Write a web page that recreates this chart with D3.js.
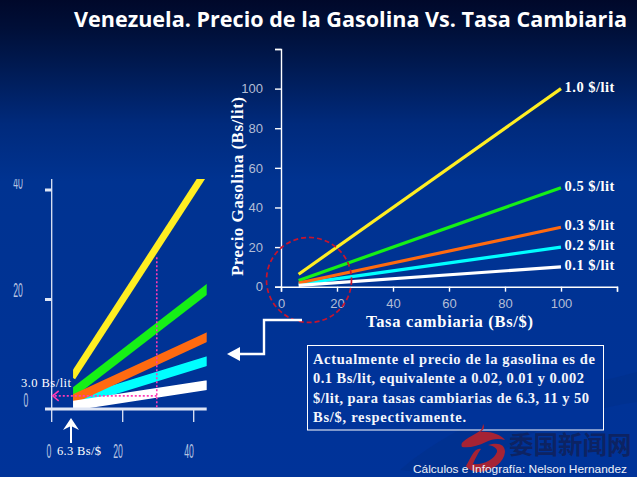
<!DOCTYPE html>
<html><head><meta charset="utf-8">
<script src="https://cdn.jsdelivr.net/npm/d3@7/dist/d3.min.js"></script>
<style>html,body{margin:0;padding:0;background:#003399;overflow:hidden}svg{display:block}</style>
</head><body><svg id="c" width="637" height="477"></svg>
<script>
const seriesNames=["1.0 $/lit","0.5 $/lit","0.2 $/lit","0.3 $/lit","0.1 $/lit"];
const seriesColors=["#ffee22","#16f016","#00ffff","#ff6a10","#ffffff"];
const xValues=[6.3,100];
const yellowValues=[6.3,100];
const greenValues=[3.15,50];
const cyanValues=[1.26,20];
const orangeValues=[1.89,30];
const whiteValues=[0.63,10];
const allValues=[yellowValues,greenValues,cyanValues,orangeValues,whiteValues];
const mainTicks=[0,20,40,60,80,100,120];
const insetTicks=[0,20,40];
const guideX=29.6, guideTop=27.7, guideLeft=2.4;
const noteLines=["Actualmente el precio de la gasolina es de","0.1 Bs/lit, equivalente a 0.02, 0.01 y 0.002","$/lit, para tasas cambiarias de 6.3, 11 y 50","Bs/$, respectivamente."];

const svg=d3.select("#c");
const defs=svg.append("defs");
const g=defs.append("linearGradient").attr("id","bg").attr("x1",0).attr("x2",0).attr("y1",0).attr("y2",1);
[[0,"#00082a"],[0.06,"#000f38"],[0.14,"#001a52"],[0.26,"#002a7c"],[0.38,"#003391"],[1,"#003399"]].forEach(d=>g.append("stop").attr("offset",d[0]).attr("stop-color",d[1]));
svg.append("rect").attr("width",637).attr("height",477).attr("fill","url(#bg)");
svg.append("path").attr("d","M637,372 C560,392 470,410 400,470 L470,477 C520,430 580,410 637,402Z").attr("fill","#002f8a").attr("opacity",.55);

svg.append("text").attr("x",74).attr("y",27).attr("textLength",553).attr("lengthAdjust","spacingAndGlyphs")
 .attr("font-family","'Open Sans',sans-serif").attr("font-weight",700).attr("font-size",21.5).attr("fill","#fff").text("Venezuela. Precio de la Gasolina Vs. Tasa Cambiaria");

// main chart
const x=d3.scaleLinear().domain([0,120]).range([281,617]);
const y=d3.scaleLinear().domain([0,120]).range([286.7,49]);
const tickStyle=(sel)=>{sel.select(".domain").attr("stroke","#fff").attr("stroke-width",1.4);
 sel.selectAll(".tick line").attr("stroke","#fff").attr("stroke-width",1.4);
 sel.selectAll(".tick text").attr("fill","#b4bed6").attr("font-family","'Liberation Sans',sans-serif").attr("font-size",13);};
const fmt=d=>d===120?"":d;
svg.append("g").attr("transform","translate(0,286.7)").call(d3.axisBottom(x).tickValues(mainTicks).tickFormat(fmt).tickSizeOuter(0).tickSize(5).tickPadding(7)).call(tickStyle);
svg.append("g").attr("transform","translate(281,0)").call(d3.axisLeft(y).tickValues(mainTicks).tickFormat(fmt).tickSizeOuter(0).tickSize(6).tickPadding(12)).call(tickStyle);
const line=d3.line().x((d,i)=>x(xValues[i])).y(d=>y(d));
svg.append("g").selectAll("path").data(allValues).join("path").attr("d",line).attr("fill","none")
 .attr("stroke",(d,i)=>seriesColors[i]).attr("stroke-width",3.2);
const labelFont="'Liberation Serif',serif";
svg.append("g").selectAll("text").data(allValues).join("text").attr("x",x(100)+3.5).attr("y",d=>y(d[1])+3)
 .attr("font-family",labelFont).attr("font-weight",700).attr("font-size",14.5).attr("letter-spacing",.5).attr("fill","#fff").text((d,i)=>seriesNames[i]);
svg.append("text").attr("x",366).attr("y",327).attr("font-family",labelFont).attr("font-weight",700).attr("font-size",16.5).attr("textLength",167).attr("fill","#fff").text("Tasa cambiaria (Bs/$)");
svg.append("text").attr("transform","translate(243,276) rotate(-90)").attr("font-family",labelFont).attr("font-weight",700).attr("font-size",17).attr("textLength",179).attr("fill","#fff").text("Precio Gasolina (Bs/lit)");
svg.append("circle").attr("cx",x(10)).attr("cy",y(3.4)).attr("r",42.5).attr("fill","none").attr("stroke","#c8142c").attr("stroke-width",1.7).attr("stroke-dasharray","5,3");

// connector
svg.append("path").attr("d","M302,320H264V354H238").attr("fill","none").attr("stroke","#fff").attr("stroke-width",2.4);
svg.append("path").attr("d","M227,354L240,347V361Z").attr("fill","#fff");

// inset
const ix=d3.scaleLinear().domain([0,40]).range([51.7,193.7]);
const iy=d3.scaleLinear().domain([0,40]).range([409,190]);
defs.append("clipPath").attr("id","ic").append("rect").attr("x",ix(xValues[0])-1).attr("y",179).attr("width",206.7-ix(xValues[0])+1).attr("height",230);
const iline=d3.line().x((d,i)=>ix(xValues[i])).y(d=>iy(d));
const iw=[7,8.6,9.4,9,9.6];
svg.append("g").attr("clip-path","url(#ic)").selectAll("path").data(allValues).join("path").attr("d",iline).attr("fill","none")
 .attr("stroke-linecap","square").attr("stroke",(d,i)=>seriesColors[i]).attr("stroke-width",(d,i)=>iw[i]);
// inset axes
const axG=svg.append("g");
axG.append("line").attr("x1",ix(0)).attr("x2",ix(0)).attr("y1",179).attr("y2",422).attr("stroke","#dfe6f5").attr("stroke-width",1.3);
axG.append("line").attr("x1",45).attr("x2",206.7).attr("y1",iy(0)).attr("y2",iy(0)).attr("stroke","#dfe6f5").attr("stroke-width",3);
axG.selectAll(".ty").data(insetTicks.slice(1)).join("line").attr("x1",45).attr("x2",ix(0)).attr("y1",d=>iy(d)).attr("y2",d=>iy(d)).attr("stroke","#dfe6f5").attr("stroke-width",3);
axG.selectAll(".tx").data(insetTicks.slice(1)).join("line").attr("x1",d=>ix(d)).attr("x2",d=>ix(d)).attr("y1",iy(0)).attr("y2",422).attr("stroke","#dfe6f5").attr("stroke-width",1.3);
const stretched=(px,py,t,sy=1.5)=>svg.append("text").attr("transform",`translate(${px},${py}) scale(.62,${sy})`).attr("text-anchor","middle")
 .attr("font-family","'Liberation Sans',sans-serif").attr("font-size",14).attr("fill","#b6c4e2").text(t);
defs.append("clipPath").attr("id","top").append("rect").attr("x",0).attr("y",179).attr("width",60).attr("height",30);
svg.append("g").attr("clip-path","url(#top)").append("text").attr("transform","translate(18,189) scale(.62,1.5)").attr("text-anchor","middle")
 .attr("font-family","'Liberation Sans',sans-serif").attr("font-size",14).attr("fill","#b6c4e2").text(insetTicks[2]);
stretched(18,297,insetTicks[1]);
stretched(26,407,insetTicks[0],1.38);
stretched(49,458,insetTicks[0]);
stretched(118,458,insetTicks[1]);
stretched(189,458,insetTicks[2]);

// pink guides
svg.append("line").attr("x1",ix(guideX)).attr("x2",ix(guideX)).attr("y1",iy(guideTop)).attr("y2",iy(0)).attr("stroke","#ff3ab4").attr("stroke-width",1.6).attr("stroke-dasharray","2,2");
svg.append("line").attr("x1",ix(guideX)).attr("x2",ix(0)+2).attr("y1",iy(guideLeft)).attr("y2",iy(guideLeft)).attr("stroke","#ff3ab4").attr("stroke-width",1.6).attr("stroke-dasharray","2,2");
svg.append("path").attr("d",`M${ix(0)+7},${iy(guideLeft)-5}L${ix(0)+1},${iy(guideLeft)}L${ix(0)+7},${iy(guideLeft)+5}`).attr("fill","none").attr("stroke","#ff3ab4").attr("stroke-width",1.6);
svg.append("text").attr("x",21).attr("y",387).attr("font-family",labelFont).attr("font-size",12.5).attr("textLength",50).attr("fill","#fff").text("3.0 Bs/lit");
svg.append("text").attr("x",57).attr("y",455).attr("font-family",labelFont).attr("font-size",12.5).attr("textLength",44).attr("fill","#fff").text("6.3 Bs/$");
svg.append("path").attr("d","M71,443V425").attr("stroke","#fff").attr("stroke-width",2);
svg.append("path").attr("d","M71,418L63,430L71,426L79,430Z").attr("fill","#fff");

// note box
svg.append("rect").attr("x",307.5).attr("y",345.5).attr("width",296).attr("height",84.5).attr("fill","#003399").attr("stroke","#fff").attr("stroke-width",1);
const noteWidths=[282,271,276,153];
svg.append("g").selectAll("text").data(noteLines).join("text").attr("x",313).attr("y",(d,i)=>364+i*19.4)
 .attr("font-family",labelFont).attr("font-weight",700).attr("font-size",14.5).attr("textLength",(d,i)=>noteWidths[i]).attr("fill","#f4f6fc").text(d=>d);

// watermark and credit
const red=svg.append("g").attr("fill","#b3232e").attr("opacity",.93);
red.append("path").attr("d","M483,424C485,427 484,430 480,432C490,431 500,434 505,440C498,438 492,439 486,442C478,446 470,448 462,447C461,445 461,443 464,441C470,436 476,434 481,430C482,428 483,426 483,424Z");
red.append("path").attr("d","M488,445C498,442 505,444 505,452C504,462 494,470 480,472C474,472 469,470 466,466L472,455C475,450 478,448 481,449C478,453 475,459 473,464C483,465 494,460 497,452C498,449 494,446 488,445Z");
svg.append("text").attr("x",509).attr("y",454).attr("font-family","'Noto Sans CJK SC',sans-serif").attr("font-weight",700).attr("font-size",24.5).attr("fill","#0d2363").text("委国新闻网");
svg.append("text").attr("x",413).attr("y",473).attr("font-family","'Liberation Sans',sans-serif").attr("font-size",11.2).attr("fill","#eef1f8").attr("textLength",214).attr("lengthAdjust","spacingAndGlyphs").text("Cálculos e Infografía: Nelson Hernandez");
</script></body></html>
